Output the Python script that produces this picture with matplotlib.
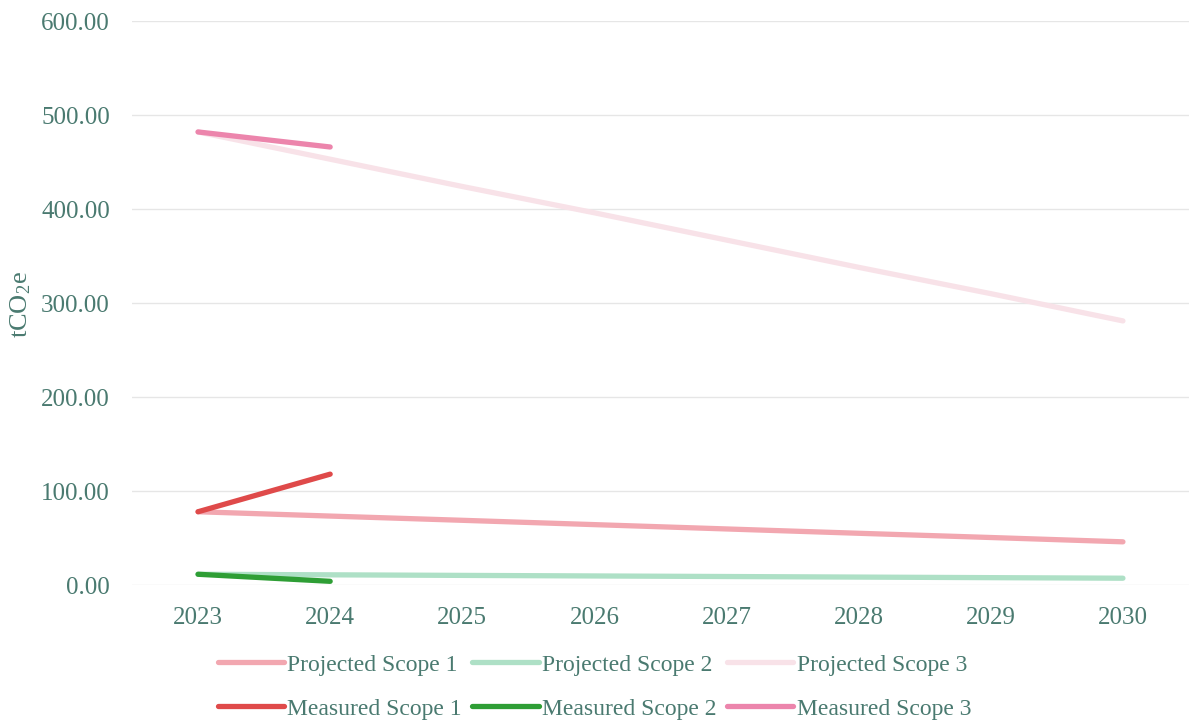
import numpy as np
from matplotlib import pyplot as plt

plt.rcParams['font.family'] = ['Liberation Serif', 'DejaVu Serif']
plt.rcParams['mathtext.default'] = 'regular'

years = [2023, 2024, 2025, 2026, 2027, 2028, 2029, 2030]
measured_years = [2023, 2024]

projected_scope1 = [78.0, 73.4, 68.9, 64.3, 59.7, 55.1, 50.6, 46.0]
projected_scope2 = [11.5, 10.9, 10.3, 9.7, 9.1, 8.5, 7.9, 7.3]
projected_scope3 = [482.0, 453.0, 424.0, 396.0, 367.0, 338.0, 310.0, 281.0]

measured_scope1 = [78.0, 118.0]
measured_scope2 = [11.5, 4.0]
measured_scope3 = [482.0, 466.0]

text_col = '#4a7a70'

fig = plt.figure(figsize=(11.89, 7.25), dpi=100)
ax = fig.add_axes([0.111, 0.193, 0.889, 0.778])

p1, = ax.plot(years, projected_scope1, color='#f2a7b0', lw=3.8, solid_capstyle='round', label='Projected Scope 1')
p2, = ax.plot(years, projected_scope2, color='#aee0c6', lw=3.8, solid_capstyle='round', label='Projected Scope 2')
p3, = ax.plot(years, projected_scope3, color='#f8e2e8', lw=3.8, solid_capstyle='round', label='Projected Scope 3')
m1, = ax.plot(measured_years, measured_scope1, color='#df4a4a', lw=3.8, solid_capstyle='round', label='Measured Scope 1')
m2, = ax.plot(measured_years, measured_scope2, color='#2e9e35', lw=3.8, solid_capstyle='round', label='Measured Scope 2')
m3, = ax.plot(measured_years, measured_scope3, color='#ec85ac', lw=3.8, solid_capstyle='round', label='Measured Scope 3')

ax.set_xlim(2022.5, 2030.5)
ax.set_ylim(0, 600)
ax.set_yticks(np.arange(0, 601, 100))
ax.set_yticklabels([f'{v:.2f}' for v in np.arange(0, 601, 100)])
ax.set_xticks(years)
ax.tick_params(length=0, labelsize=18, colors=text_col)
ax.tick_params(axis='x', pad=16)
ax.tick_params(axis='y', pad=16)
ax.grid(axis='y', color='#e6e6e6', lw=1)
ax.set_axisbelow(True)
for s in ax.spines.values():
    s.set_visible(False)

fig.text(0.017, 0.58, 'tCO$_2$e', rotation=90, fontsize=19, color=text_col,
         ha='center', va='center')

# column-major ordering so rows read projected / measured
handles = [p1, m1, p2, m2, p3, m3]
leg = fig.legend(handles=handles, labels=[h.get_label() for h in handles], ncol=3,
                 loc='lower center', bbox_to_anchor=(0.5, -0.022), frameon=False,
                 fontsize=17, handlelength=2.8, handletextpad=0.15, columnspacing=0.45,
                 labelspacing=0.95)
for t in leg.get_texts():
    t.set_color(text_col)

fig.savefig('out.png', dpi=100)
